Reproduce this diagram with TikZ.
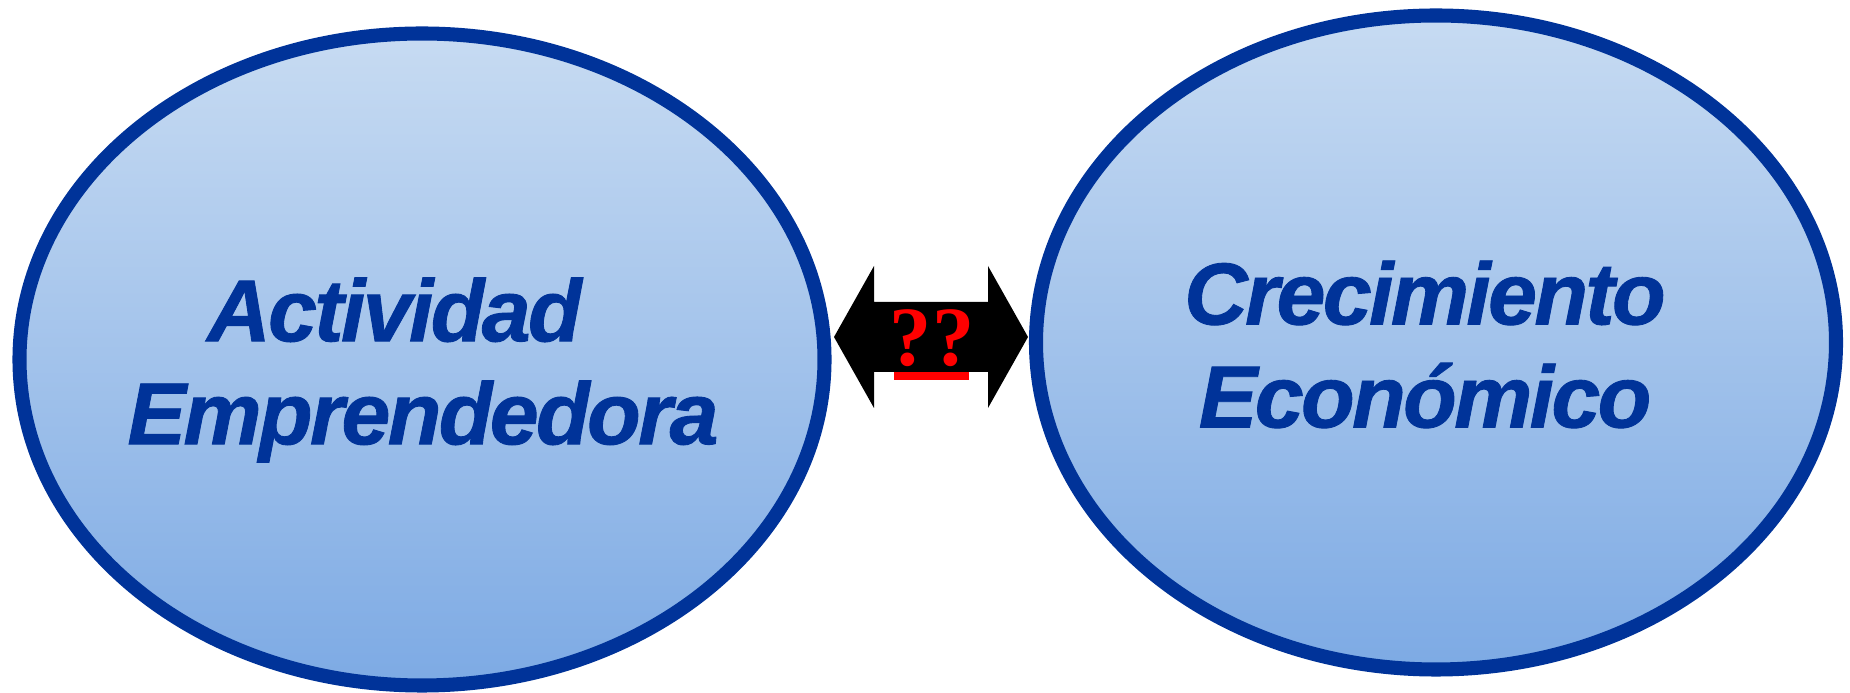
\documentclass[tikz,border=0pt]{standalone}
\usepackage{fontspec}
\setmainfont{Liberation Sans}
\newfontfamily\rotulo[LetterSpace=-3, FakeBold=1]{Liberation Sans}
\newfontfamily\qmark{Liberation Serif}
\usepackage{tikz}
\usepackage{xcolor}
\usetikzlibrary{shapes, positioning}

\definecolor{azul}{RGB}{0,51,153}
\definecolor{claro}{RGB}{199,219,242}
\definecolor{medio}{RGB}{125,170,228}

\tikzset{
    blob/.style={ellipse, draw=azul, line width=4pt, top color=claro, bottom color=medio, inner sep=0pt},
    etiqueta/.style={align=center, text=azul, inner sep=0pt, font=\rotulo\fontsize{25}{29.3}\selectfont\bfseries\itshape}
}

\begin{document}
\begin{tikzpicture}
        \useasboundingbox (0,0) rectangle (18.5,6.93);
        \node[blob, minimum width=8.05cm, minimum height=6.52cm] (ae) at (4.22, 3.335) {};
        \node[blob, minimum width=8.0cm, minimum height=6.54cm] (ce) at (14.36, 3.505) {};
        \node[etiqueta] (aetxt) at (4.23, 3.23) {Actividad\hspace*{0.65em}\\Emprendedora};
        \node[etiqueta] (cetxt) at (14.25, 3.485) {Crecimiento\\Económico};
        
        \fill (8.34,3.56) -- (8.74,4.27) -- (8.74,3.91) -- (9.88,3.91) -- (9.88,4.27) -- (10.28,3.56)
            -- (9.88,2.85) -- (9.88,3.21) -- (8.74,3.21) -- (8.74,2.85) -- cycle;
        \fill[red] (8.94,3.21) rectangle (9.69,3.13);
        \node[red, inner sep=0pt, anchor=base, font=\qmark\bfseries\fontsize{24}{24}\selectfont] (qq) at (9.32,3.27) {??};
    \end{tikzpicture}
\end{document}
